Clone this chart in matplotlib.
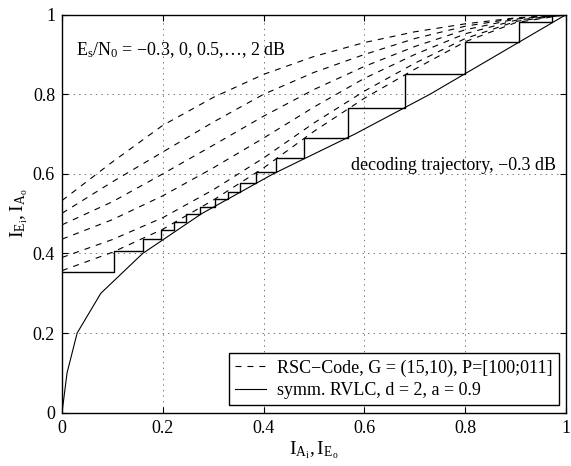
import matplotlib
matplotlib.use("Agg")
import matplotlib.pyplot as plt
import numpy as np

# EXIT chart: inner RSC code curves, outer RVLC curve and a decoding trajectory

plt.rcParams['font.family'] = ['Liberation Serif', 'DejaVu Serif']
plt.rcParams['mathtext.fontset'] = 'custom'
plt.rcParams['mathtext.rm'] = 'Liberation Serif'
plt.rcParams['mathtext.it'] = 'Liberation Serif'
plt.rcParams['lines.scale_dashes'] = False

ia_grid = [0, 0.1, 0.2, 0.3, 0.4, 0.5, 0.6, 0.7, 0.8, 0.9, 1.0]

# RSC-code transfer curves, Es/N0 = -0.3, 0, 0.5, 1, 1.5, 2 dB
rsc_m03 = [0.357, 0.403, 0.461, 0.534, 0.615, 0.707, 0.790, 0.863, 0.932, 0.980, 1.0]
rsc_00 = [0.390, 0.435, 0.490, 0.560, 0.640, 0.728, 0.808, 0.878, 0.940, 0.983, 1.0]
rsc_05 = [0.436, 0.485, 0.545, 0.615, 0.690, 0.768, 0.840, 0.900, 0.952, 0.986, 1.0]
rsc_10 = [0.472, 0.530, 0.600, 0.672, 0.745, 0.812, 0.870, 0.920, 0.962, 0.989, 1.0]
rsc_15 = [0.501, 0.580, 0.655, 0.730, 0.800, 0.855, 0.900, 0.940, 0.971, 0.991, 1.0]
rsc_20 = [0.533, 0.630, 0.722, 0.792, 0.850, 0.895, 0.930, 0.957, 0.977, 0.992, 1.0]

# symmetric RVLC curve (axes swapped)
rvlc_x = [0, 0.01, 0.03, 0.077, 0.16, 0.277, 0.419, 0.581, 0.73, 0.865, 1.0]
rvlc_y = [0, 0.1, 0.2, 0.3, 0.4, 0.5, 0.6, 0.7, 0.8, 0.9, 1.0]

# decoding trajectory at -0.3 dB (corners of the staircase)
traj_x = [0, 0.104, 0.160, 0.196, 0.222, 0.247, 0.274, 0.304, 0.329, 0.353,
          0.385, 0.425, 0.481, 0.567, 0.681, 0.800, 0.906, 0.972, 1.0]
traj_y = [0.354, 0.405, 0.436, 0.459, 0.479, 0.498, 0.517, 0.537, 0.555, 0.576,
          0.604, 0.639, 0.691, 0.765, 0.850, 0.932, 0.982, 0.998, 0.998]

fig = plt.figure(figsize=(5.71, 4.66), dpi=100)
ax = fig.add_axes([0.1086, 0.1144, 0.8826, 0.8541])

dash = (4.3, 4.3)
first = True
for curve in [rsc_m03, rsc_00, rsc_05, rsc_10, rsc_15, rsc_20]:
    lab = 'RSC\u2212Code, G = (15,10), P=[100;011]' if first else None
    ax.plot(ia_grid, curve, color='black', lw=0.8, dashes=dash, label=lab)
    first = False

ax.plot(rvlc_x, rvlc_y, color='black', lw=0.8, label='symm. RVLC, d = 2, a = 0.9')
ax.step(traj_x, traj_y, where='post', color='black', lw=1.0)

ax.set_xlim(0, 1)
ax.set_ylim(0, 1)
ticks = [0, 0.2, 0.4, 0.6, 0.8, 1]
ax.set_xticks(ticks)
ax.set_yticks(ticks)
ax.set_xticklabels(['0', '0.2', '0.4', '0.6', '0.8', '1'])
ax.set_yticklabels(['0', '0.2', '0.4', '0.6', '0.8', '1'])
ax.tick_params(direction='in', top=True, right=True, length=4, labelsize=13, pad=5)
ax.grid(True, color='0.45', linestyle=(0, (1, 3)), lw=0.7)
for sp in ax.spines.values():
    sp.set_linewidth(1.0)

ax.set_xlabel(r'$\mathrm{I_{A_i}, I_{E_o}}$', fontsize=14, labelpad=2)
ax.set_ylabel(r'$\mathrm{I_{E_i}, I_{A_o}}$', fontsize=14, labelpad=2)

ax.text(0.028, 0.899, r'$\mathrm{E_s/N_0}$ = \u22120.3, 0, 0.5,\u2026, 2 dB'.replace('\\u2212', '\u2212').replace('\\u2026', '\u2026'),
        fontsize=13, ha='left', va='baseline')
ax.text(0.98, 0.61, 'decoding trajectory, \u22120.3 dB', fontsize=13, ha='right', va='baseline')

leg = ax.legend(loc='lower right', fontsize=13, frameon=True, fancybox=False,
                edgecolor='black', framealpha=1, handlelength=1.7, handletextpad=0.6,
                labelspacing=0.3, borderpad=0.35, borderaxespad=0.4)
leg.get_frame().set_linewidth(1.0)

fig.savefig('out.png', dpi=100)
